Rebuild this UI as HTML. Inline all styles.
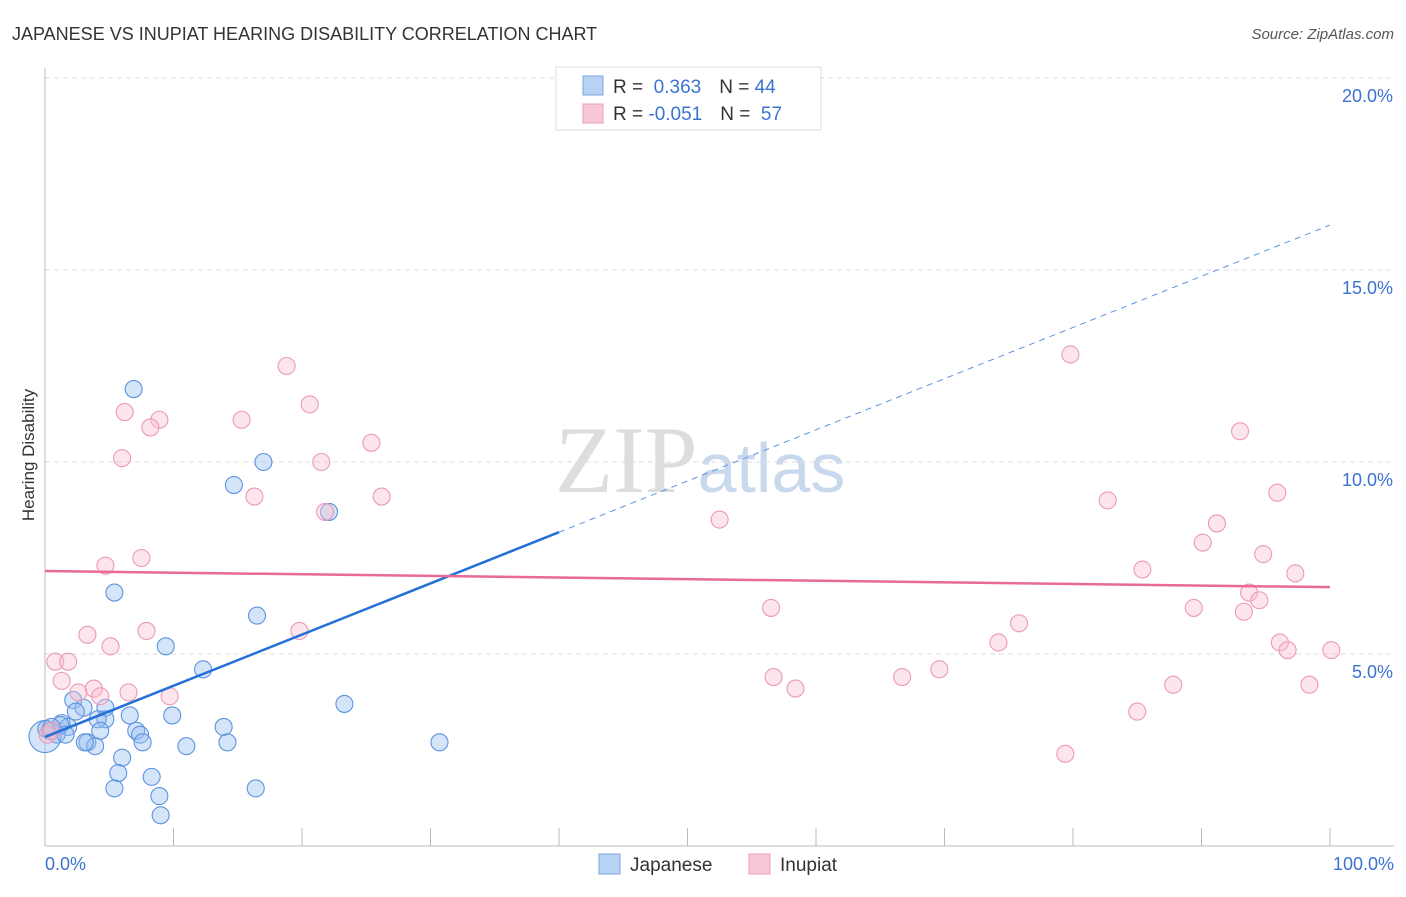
<!DOCTYPE html>
<html><head><meta charset="utf-8"><style>
body{margin:0;background:#fff;font-family:"Liberation Sans",sans-serif;}
</style></head><body>
<svg width="1406" height="892" xmlns="http://www.w3.org/2000/svg" font-family="Liberation Sans, sans-serif">
<text x="12" y="40" font-size="18" fill="#333">JAPANESE VS INUPIAT HEARING DISABILITY CORRELATION CHART</text>
<text x="1394" y="39" font-size="15" fill="#555" text-anchor="end" font-style="italic">Source: ZipAtlas.com</text>
<text x="555" y="492" font-size="95" fill="#ddd" font-family="Liberation Serif, serif">ZIP<tspan fill="#c8d9ee" font-family="Liberation Sans, sans-serif" font-size="70">atlas</tspan></text>
<g id="grid"></g><g id="axes"></g><g id="pts"></g><g id="trend"></g>
<text transform="translate(34,455) rotate(-90)" font-size="17" fill="#333" text-anchor="middle">Hearing Disability</text>
<text x="45" y="870" font-size="18" fill="#3b73d1">0.0%</text>
<text x="1394" y="870" font-size="18" fill="#3b73d1" text-anchor="end">100.0%</text>
<g>
<rect x="556" y="67" width="265" height="63" fill="#fff" stroke="#ddd"/>
<rect x="583" y="76" width="20" height="19" fill="#b8d2f4" stroke="#7aa5e0"/>
<rect x="583" y="104" width="20" height="19" fill="#f8c8d6" stroke="#eaa0b6"/>
<text x="613" y="93" font-size="19" fill="#333">R = <tspan fill="#3b73d1">&#160;0.363</tspan><tspan dx="18">N = </tspan><tspan fill="#3b73d1">44</tspan></text>
<text x="613" y="120" font-size="19" fill="#333">R = <tspan fill="#3b73d1">-0.051</tspan><tspan dx="18">N = </tspan><tspan fill="#3b73d1">&#160;57</tspan></text>
</g>
<g>
<rect x="599" y="854" width="21" height="20" fill="#b8d2f4" stroke="#7aa5e0"/>
<text x="630" y="871" font-size="19" fill="#333">Japanese</text>
<rect x="749" y="854" width="21" height="20" fill="#f8c8d6" stroke="#eaa0b6"/>
<text x="780" y="871" font-size="19" fill="#333">Inupiat</text>
</g>
</svg>
<script>
const yTicks=[5,10,15,20];
const yTickLabels=["5.0%","10.0%","15.0%","20.0%"];
const japX=[6.9,17.0,14.7,22.1,5.4,16.5,9.4,12.3,23.3,9.9,6.6,2.2,3.0,2.4,4.7,4.7,4.1,1.3,1.8,0.4,0.9,4.3,7.1,7.4,13.9,3.3,3.9,7.6,14.2,11.0,30.7,6.0,5.7,8.3,5.4,16.4,8.9,9.0,0.0,1.2,0.1,0.5,1.6,3.1];
const japY=[11.9,10.0,9.4,8.7,6.6,6.0,5.2,4.6,3.7,3.4,3.4,3.8,3.6,3.5,3.6,3.3,3.3,3.2,3.1,3.0,2.9,3.0,3.0,2.9,3.1,2.7,2.6,2.7,2.7,2.6,2.7,2.3,1.9,1.8,1.5,1.5,1.3,0.8,2.85,3.15,3.05,3.1,2.9,2.7];
const inuX=[47.1,18.8,79.8,20.6,6.2,8.9,15.3,8.2,25.4,93.0,6.0,21.5,16.3,26.2,82.7,95.9,21.8,52.5,91.2,90.1,7.5,4.7,94.8,85.4,97.3,93.7,56.5,89.4,94.5,93.3,75.8,19.8,7.9,3.3,74.2,5.1,96.1,96.7,100.1,0.8,1.8,69.6,56.7,66.7,1.3,58.4,3.8,87.8,98.4,2.6,6.5,4.3,9.7,85.0,79.4,0.2,0.5];
const inuY=[19.6,12.5,12.8,11.5,11.3,11.1,11.1,10.9,10.5,10.8,10.1,10.0,9.1,9.1,9.0,9.2,8.7,8.5,8.4,7.9,7.5,7.3,7.6,7.2,7.1,6.6,6.2,6.2,6.4,6.1,5.8,5.6,5.6,5.5,5.3,5.2,5.3,5.1,5.1,4.8,4.8,4.6,4.4,4.4,4.3,4.1,4.1,4.2,4.2,4.0,4.0,3.9,3.9,3.5,2.4,2.9,3.0];
const japTrend=[2.84,16.17];
const inuTrend=[7.16,6.74];
const NS="http://www.w3.org/2000/svg";
const X=v=>45+v*12.85, Y=v=>846-v*38.4;
function mk(t,a,p){const e=document.createElementNS(NS,t);for(const k in a)e.setAttribute(k,a[k]);p.appendChild(e);return e;}
const grid=document.getElementById('grid'),axes=document.getElementById('axes'),pts=document.getElementById('pts'),tr=document.getElementById('trend');
yTicks.forEach((t,i)=>{
 const l=mk('line',{x1:45,x2:1394,y1:Y(t),y2:Y(t),stroke:'#ddd','stroke-dasharray':'5,4'},grid);
 
 
 const tx=mk('text',{x:1393,y:Y(t)+24,'font-size':18,fill:'#3b73d1','text-anchor':'end'},grid);
 tx.textContent=yTickLabels[i];
 
 
});
const ax=mk('line',{x1:45,x2:45,y1:68,y2:846,stroke:'#bbb'},axes);


const bx=mk('line',{x1:45,x2:1394,y1:846,y2:846,stroke:'#bbb'},axes);


for(let i=1;i<=10;i++){const t=mk('line',{x1:X(i*10),x2:X(i*10),y1:828,y2:846,stroke:'#bbb'},axes);
 
 }
japX.forEach((x,i)=>{const c=mk('circle',{cx:X(x),cy:Y(japY[i]),r:i==38?16:8.5,fill:'rgba(150,190,240,0.4)',stroke:'#5b93e0','stroke-width':1.1},pts);
 
 });
inuX.forEach((x,i)=>{const c=mk('circle',{cx:X(x),cy:Y(inuY[i]),r:8.5,fill:'rgba(248,190,208,0.4)',stroke:'#ec9ab4','stroke-width':1.1},pts);
 
 });
const jm=v=>japTrend[0]+(japTrend[1]-japTrend[0])*v/100;
const a=mk('line',{x1:X(0),y1:Y(jm(0)),x2:X(40),y2:Y(jm(40)),stroke:'#2470d8','stroke-width':2.5},tr);


const b=mk('line',{x1:X(40),y1:Y(jm(40)),x2:X(100),y2:Y(jm(100)),stroke:'#5b93e0','stroke-width':1,'stroke-dasharray':'6,5'},tr);


const c=mk('line',{x1:X(0),y1:Y(inuTrend[0]),x2:X(100),y2:Y(inuTrend[1]),stroke:'#e86a95','stroke-width':2.5},tr);


</script>
</body></html>
